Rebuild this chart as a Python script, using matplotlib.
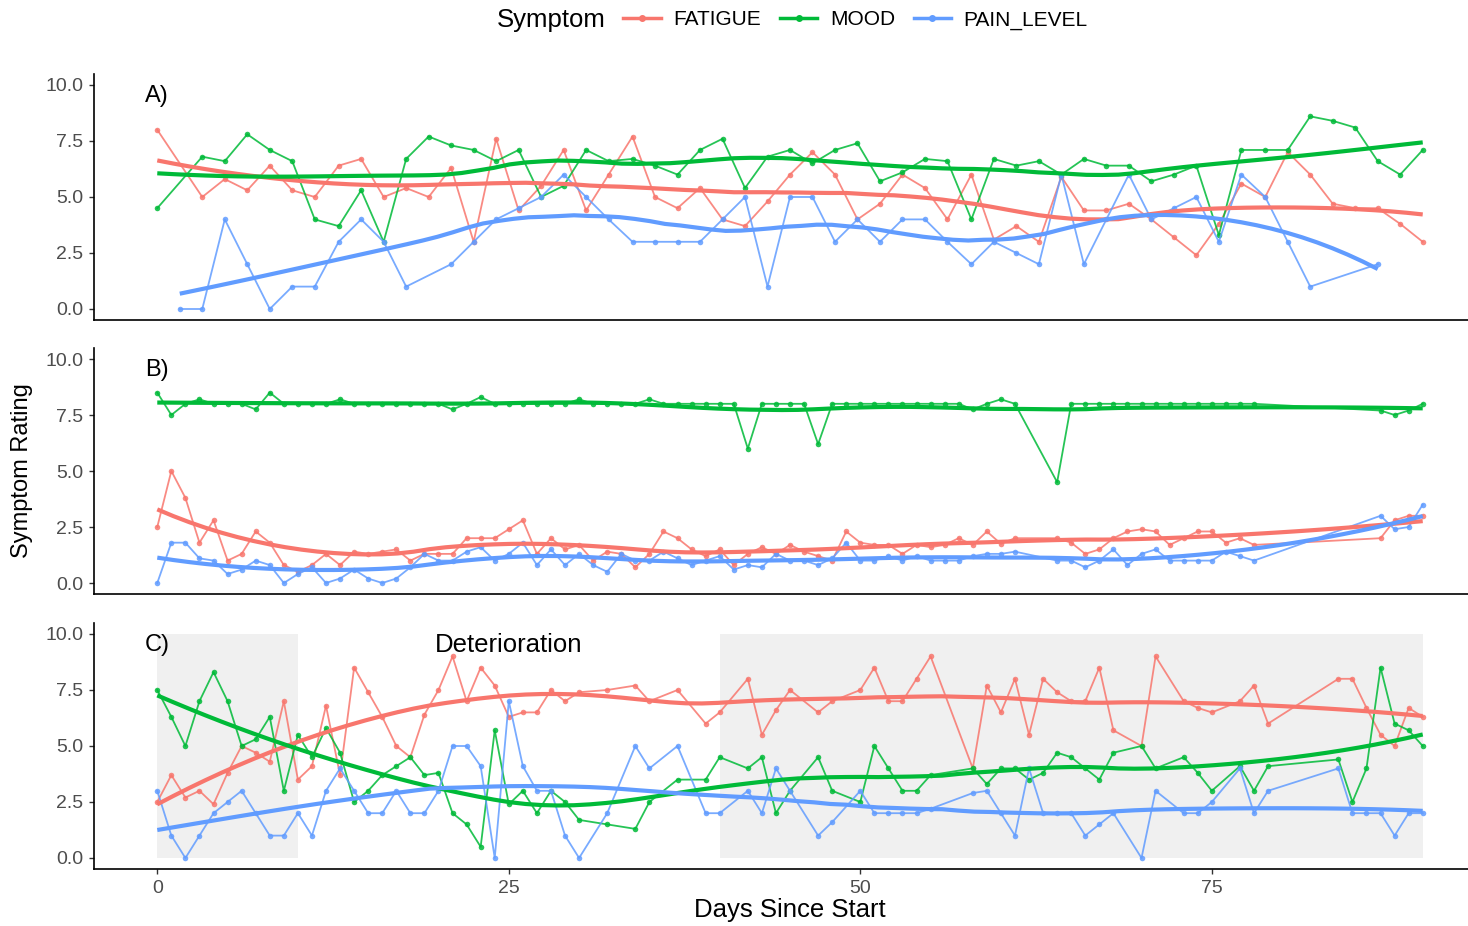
import numpy as np
import matplotlib
matplotlib.use("Agg")
import matplotlib.pyplot as plt
from matplotlib.lines import Line2D
from matplotlib.patches import Rectangle

plt.rcParams['font.family'] = ['Liberation Sans', 'DejaVu Sans']

nan = np.nan

# ---------------- data ----------------
symptoms = ["FATIGUE", "MOOD", "PAIN_LEVEL"]
colors = {"FATIGUE": "#F8766D", "MOOD": "#00BA38", "PAIN_LEVEL": "#619CFF"}

# panel A
a_days = [0.0, 1.6, 3.2, 4.8, 6.4, 8.0, 9.6, 11.2, 12.9, 14.5, 16.1, 17.7, 19.3, 20.9,
          22.5, 24.1, 25.7, 27.3, 28.9, 30.5, 32.1, 33.8, 35.4, 37.0, 38.6, 40.2, 41.8,
          43.4, 45.0, 46.6, 48.2, 49.8, 51.4, 53.0, 54.6, 56.2, 57.9, 59.5, 61.1, 62.7,
          64.3, 65.9, 67.5, 69.1, 70.7, 72.3, 73.9, 75.5, 77.1, 78.8, 80.4, 82.0, 83.6,
          85.2, 86.8, 88.4, 90.0]
a_fatigue = [8.0, nan, 5.0, 5.8, 5.3, 6.4, 5.3, 5.0, 6.4, 6.7, 5.0, 5.4, 5.0, 6.3, 3.0,
             7.6, 4.4, 5.5, 7.1, 4.4, 6.0, 7.7, 5.0, 4.5, 5.4, 4.0, 3.7, 4.8, 6.0, 7.0,
             6.0, 4.0, 4.7, 6.0, 5.4, 4.0, 6.0, 3.1, 3.7, 3.0, 5.9, 4.4, 4.4, 4.7, 4.0,
             3.2, 2.4, 3.8, 5.6, 5.0, 7.0, 6.0, 4.7, 4.5, 4.5, 3.8, 3.0]
a_mood = [4.5, nan, 6.8, 6.6, 7.8, 7.1, 6.6, 4.0, 3.7, 5.3, 3.0, 6.7, 7.7, 7.3, 7.1,
          6.6, 7.1, 5.0, 5.5, 7.1, 6.6, 6.7, 6.4, 6.0, 7.1, 7.6, 5.4, 6.8, 7.1, 6.5,
          7.1, 7.4, 5.7, 6.1, 6.7, 6.6, 4.0, 6.7, 6.4, 6.6, 6.0, 6.7, 6.4, 6.4, 5.7,
          6.0, 6.4, 3.3, 7.1, 7.1, 7.1, 8.6, 8.4, 8.1, 6.6, 6.0, 7.1]
a_pain = [nan, 0.0, 0.0, 4.0, 2.0, 0.0, 1.0, 1.0, 3.0, 4.0, 3.0, 1.0, nan, 2.0, 3.0,
          4.0, 4.5, 5.0, 6.0, 5.0, 4.0, 3.0, 3.0, 3.0, 3.0, 4.0, 5.0, 1.0, 5.0, 5.0,
          3.0, 4.0, 3.0, 4.0, 4.0, 3.0, 2.0, 3.0, 2.5, 2.0, 6.0, 2.0, 4.0, 6.0, 4.0,
          4.5, 5.0, 3.0, 6.0, 5.0, 3.0, 1.0, nan, nan, 2.0, nan, nan]

# panel B
b_days = [0, 1, 2, 3, 4, 5, 6, 7, 8, 9, 10, 11, 12, 13, 14, 15, 16, 17, 18, 19, 20,
          21, 22, 23, 24, 25, 26, 27, 28, 29, 30, 31, 32, 33, 34, 35, 36, 37, 38, 39,
          40, 41, 42, 43, 44, 45, 46, 47, 48, 49, 50, 51, 52, 53, 54, 55, 56, 57, 58,
          59, 60, 61, 64, 65, 66, 67, 68, 69, 70, 71, 72, 73, 74, 75, 76, 77, 78,
          87, 88, 89, 90]
b_fatigue = [2.5, 5.0, 3.8, 1.8, 2.8, 1.0, 1.3, 2.3, 1.8, 0.8, 0.5, 0.8, 1.3, 0.8, 1.4,
             1.3, 1.4, 1.5, 1.0, 1.3, 1.3, 1.3, 2.0, 2.0, 2.0, 2.4, 2.8, 1.3, 2.0, 1.5,
             1.7, 1.0, 1.4, 1.3, 0.7, 1.3, 2.3, 2.0, 1.5, 1.2, 1.5, 0.8, 1.3, 1.6, 1.3,
             1.7, 1.4, 1.2, 1.0, 2.3, 1.8, 1.7, 1.7, 1.3, 1.7, 1.6, 1.7, 2.0, 1.7, 2.3,
             1.75, 2.0, 2.0, 1.8, 1.3, 1.5, 2.0, 2.3, 2.4, 2.3, 1.7, 2.0, 2.3, 2.3, 1.8,
             2.0, 1.7, 2.0, 2.8, 3.0, 3.0]
b_mood = [8.5, 7.5, 8.0, 8.2, 8.0, 8.0, 8.0, 7.75, 8.5, 8.0, 8.0, 8.0, 8.0, 8.2, 8.0,
          8.0, 8.0, 8.0, 8.0, 8.0, 8.0, 7.75, 8.0, 8.3, 8.0, 8.0, 8.0, 8.0, 8.0, 8.0,
          8.2, 8.0, 8.0, 8.0, 8.0, 8.2, 8.0, 8.0, 8.0, 8.0, 8.0, 8.0, 6.0, 8.0, 8.0,
          8.0, 8.0, 6.2, 8.0, 8.0, 8.0, 8.0, 8.0, 8.0, 8.0, 8.0, 8.0, 8.0, 7.75, 8.0,
          8.2, 8.0, 4.5, 8.0, 8.0, 8.0, 8.0, 8.0, 8.0, 8.0, 8.0, 8.0, 8.0, 8.0, 8.0,
          8.0, 8.0, 7.7, 7.5, 7.7, 8.0]
b_pain = [0.0, 1.8, 1.8, 1.1, 1.0, 0.4, 0.6, 1.0, 0.8, 0.0, 0.4, 0.7, 0.0, 0.2, 0.6,
          0.2, 0.0, 0.2, 0.7, 1.3, 1.0, 1.0, 1.4, 1.6, 1.0, 1.3, 1.8, 0.8, 1.5, 0.8,
          1.3, 0.8, 0.5, 1.3, 1.0, 1.0, 1.4, 1.1, 0.8, 1.0, 1.2, 0.6, 0.8, 0.7, 1.3,
          1.0, 1.0, 0.8, 1.1, 1.8, 1.0, 1.0, 1.2, 1.0, 1.2, 1.0, 1.0, 1.0, 1.2, 1.3,
          1.3, 1.4, 1.0, 1.0, 0.7, 1.0, 1.5, 0.8, 1.3, 1.5, 1.0, 1.0, 1.0, 1.0, 1.4,
          1.2, 1.0, 3.0, 2.4, 2.5, 3.5]

# panel C
c_days = [0, 1, 2, 3, 4, 5, 6, 7, 8, 9, 10, 11, 12, 13, 14, 15, 16, 17, 18, 19, 20,
          21, 22, 23, 24, 25, 26, 27, 28, 29, 30, 32, 34, 35, 37, 39, 40, 42, 43, 44,
          45, 47, 48, 50, 51, 52, 53, 54, 55, 58, 59, 60, 61, 62, 63, 64, 65, 66, 67,
          68, 70, 71, 73, 74, 75, 77, 78, 79, 84, 85, 86, 87, 88, 89, 90]
c_fatigue = [2.5, 3.7, 2.7, 3.0, 2.4, 3.8, 5.0, 4.7, 4.3, 7.0, 3.5, 4.1, 6.8, 3.7, 8.5,
             7.4, 6.3, 5.0, 4.5, 6.4, 7.5, 9.0, 7.0, 8.5, 7.7, 6.3, 6.5, 6.5, 7.5, 7.0,
             7.4, 7.5, 7.7, 7.0, 7.5, 6.0, 6.5, 8.0, 5.5, 6.6, 7.5, 6.5, 7.0, 7.5, 8.5,
             7.0, 7.0, 8.0, 9.0, 4.0, 7.7, 6.5, 8.0, 5.5, 8.0, 7.4, 7.0, 7.0, 8.5, 5.7,
             5.0, 9.0, 7.0, 6.7, 6.5, 7.0, 7.7, 6.0, 8.0, 8.0, 6.7, 5.5, 5.0, 6.7, 6.3]
c_mood = [7.5, 6.3, 5.0, 7.0, 8.3, 7.0, 5.0, 5.3, 6.3, 3.0, 5.5, 4.5, 5.8, 4.7, 2.5,
          3.0, 3.7, 4.1, 4.5, 3.7, 3.8, 2.0, 1.5, 0.5, 5.7, 2.4, 3.0, 2.0, 3.0, 2.5,
          1.7, 1.5, 1.3, 2.5, 3.5, 3.5, 4.5, 4.0, 4.5, 2.0, 3.0, 4.5, 3.0, 2.5, 5.0,
          4.0, 3.0, 3.0, 3.7, 4.0, 3.3, 4.0, 4.0, 3.5, 3.8, 4.7, 4.5, 4.0, 3.5, 4.7,
          5.0, 4.0, 4.5, 3.8, 3.0, 4.1, 3.0, 4.1, 4.4, 2.5, 4.0, 8.5, 6.0, 5.7, 5.0]
c_pain = [3.0, 1.0, 0.0, 1.0, 2.0, 2.5, 3.0, 2.0, 1.0, 1.0, 2.0, 1.0, 3.0, 4.0, 3.0,
          2.0, 2.0, 3.0, 2.0, 2.0, 3.0, 5.0, 5.0, 4.1, 0.0, 7.0, 4.1, 3.0, 3.0, 1.0,
          0.0, 2.0, 5.0, 4.0, 5.0, 2.0, 2.0, 3.0, 2.0, 4.0, 3.0, 1.0, 1.6, 3.0, 2.0,
          2.0, 2.0, 2.0, 2.2, 2.9, 3.0, 2.0, 1.0, 4.0, 2.0, 2.0, 2.0, 1.0, 1.5, 2.0,
          0.0, 3.0, 2.0, 2.0, 2.5, 4.0, 2.0, 3.0, 4.0, 2.0, 2.0, 2.0, 1.0, 2.0, 2.0]

c_shaded = [(0, 10), (40, 90)]
c_note = ("Deterioration", 25, 9.5)

panels = [
    ("A)", a_days, {"FATIGUE": a_fatigue, "MOOD": a_mood, "PAIN_LEVEL": a_pain}),
    ("B)", b_days, {"FATIGUE": b_fatigue, "MOOD": b_mood, "PAIN_LEVEL": b_pain}),
    ("C)", c_days, {"FATIGUE": c_fatigue, "MOOD": c_mood, "PAIN_LEVEL": c_pain}),
]

SPAN = 0.5


def loess(x, y, span=SPAN, n_out=80):
    # local quadratic fit with tricube weights (like geom_smooth's loess)
    x = np.asarray(x, float)
    y = np.asarray(y, float)
    n = len(x)
    q = int(np.floor(n * span))
    xs = np.linspace(x.min(), x.max(), n_out)
    fit = []
    for x0 in xs:
        d = np.abs(x - x0)
        h = np.sort(d)[q - 1]
        w = np.clip(1 - (d / h) ** 3, 0, None) ** 3
        X = np.vstack([np.ones(n), x - x0, (x - x0) ** 2]).T
        sw = np.sqrt(w)
        beta = np.linalg.lstsq(X * sw[:, None], y * sw, rcond=None)[0]
        fit.append(beta[0])
    return xs, np.array(fit)


W, H = 1468, 926
fig = plt.figure(figsize=(W / 100, H / 100), dpi=100)

left = 94 / W
width = (1486 - 94) / W
tops = [73.8, 347.8, 622.8]
ph = 246.4

for i, (tag, days, series) in enumerate(panels):
    ax = fig.add_axes([left, 1 - (tops[i] + ph) / H, width, ph / H])
    days = np.asarray(days, float)

    if tag == "C)":
        for x0, x1 in c_shaded:
            ax.add_patch(Rectangle((x0, 0), x1 - x0, 10, facecolor="#F0F0F0",
                                   edgecolor="none", zorder=0))
        ax.text(c_note[1], c_note[2], c_note[0], fontsize=18.5, ha="center",
                va="center", color="black", zorder=5)

    for s in symptoms:
        vals = np.asarray(series[s], float)
        ok = ~np.isnan(vals)
        ax.plot(days[ok], vals[ok], color=colors[s], lw=1.3, alpha=0.85, zorder=2,
                marker="o", ms=4, markeredgewidth=0)
    for s in symptoms:
        vals = np.asarray(series[s], float)
        ok = ~np.isnan(vals)
        sx, sy = loess(days[ok], vals[ok])
        ax.plot(sx, sy, color=colors[s], lw=3, zorder=3, solid_capstyle="butt")

    ax.text(0, 9.5, tag, fontsize=17, ha="center", va="center", zorder=5)

    ax.set_xlim(-4.5, 94.5)
    ax.set_ylim(-0.5, 10.5)
    ax.set_yticks([0, 2.5, 5, 7.5, 10])
    ax.set_yticklabels(["0.0", "2.5", "5.0", "7.5", "10.0"])
    for sp in ["top", "right"]:
        ax.spines[sp].set_visible(False)
    for sp in ["left", "bottom"]:
        ax.spines[sp].set_linewidth(1.2)
        ax.spines[sp].set_color("black")
    ax.tick_params(axis="y", length=3.5, width=1, color="#333333", labelsize=14,
                   labelcolor="#4D4D4D", pad=4)
    if tag == "C)":
        ax.set_xticks([0, 25, 50, 75])
        ax.tick_params(axis="x", length=3.5, width=1, color="#333333", labelsize=14,
                       labelcolor="#4D4D4D", pad=4)
        ax.set_xlabel("Days Since Start", fontsize=18.5, labelpad=1)
    else:
        ax.tick_params(axis="x", bottom=False, labelbottom=False)

fig.text(22 / W, 1 - 471 / H, "Symptom Rating", rotation=90, fontsize=17,
         ha="center", va="center")

# legend on top
handles = [Line2D([], [], color=colors[s], lw=2.5, marker="o", ms=4) for s in symptoms]
fig.text(497 / W, 1 - 20 / H, "Symptom", fontsize=18.5, ha="left", va="center")
fig.legend(handles, symptoms, loc="center left", bbox_to_anchor=(615 / W, 1 - 20 / H),
           ncol=3, frameon=False, fontsize=15, handlelength=1.8, handletextpad=0.6,
           columnspacing=0.9, borderaxespad=0)

fig.savefig("out.png", dpi=100)
